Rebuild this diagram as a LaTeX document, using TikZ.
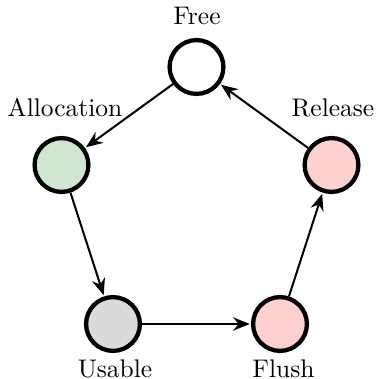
\documentclass[tikz,border=0pt]{standalone}
\usetikzlibrary{arrows.meta}
\definecolor{allocgreen}{RGB}{208,230,208}
\definecolor{softred}{RGB}{255,208,208}
\definecolor{softgray}{RGB}{218,218,218}
\tikzset{
  state/.style={circle, draw=black, line width=1.8pt, inner sep=0pt, minimum size=22.6pt},
  flow/.style={-{Stealth[length=7pt,width=5.6pt]}, line width=0.85pt, shorten >=0.5pt},
  tag/.style={font=\fontsize{10.7}{13}\selectfont, inner sep=0pt, anchor=base}
}
\begin{document}
\begin{tikzpicture}[x=0.42pt, y=-0.42pt]
  \useasboundingbox (0,0) rectangle (378,379);
  % five states on a regular pentagon
  \node[state, fill=white]      (free)  at (196.5,67)  {};
  \node[state, fill=allocgreen] (alloc) at (61.5,165)  {};
  \node[state, fill=softred]    (rel)   at (331.5,165) {};
  \node[state, fill=softgray]   (use)   at (113,324)   {};
  \node[state, fill=softred]    (flush) at (280,324)   {};
  % state names
  \node[tag] (tfree)  at (197,25)    {Free};
  \node[tag] (talloc) at (65,117)    {Allocation};
  \node[tag] (trel)   at (333,117)   {Release};
  \node[tag] (tuse)   at (115,377)   {Usable};
  \node[tag] (tflush) at (283.5,377) {Flush};
  % transitions
  \draw[flow] (free)  -- (alloc);
  \draw[flow] (alloc) -- (use);
  \draw[flow] (use)   -- (flush);
  \draw[flow] (flush) -- (rel);
  \draw[flow] (rel)   -- (free);
\end{tikzpicture}
\end{document}
